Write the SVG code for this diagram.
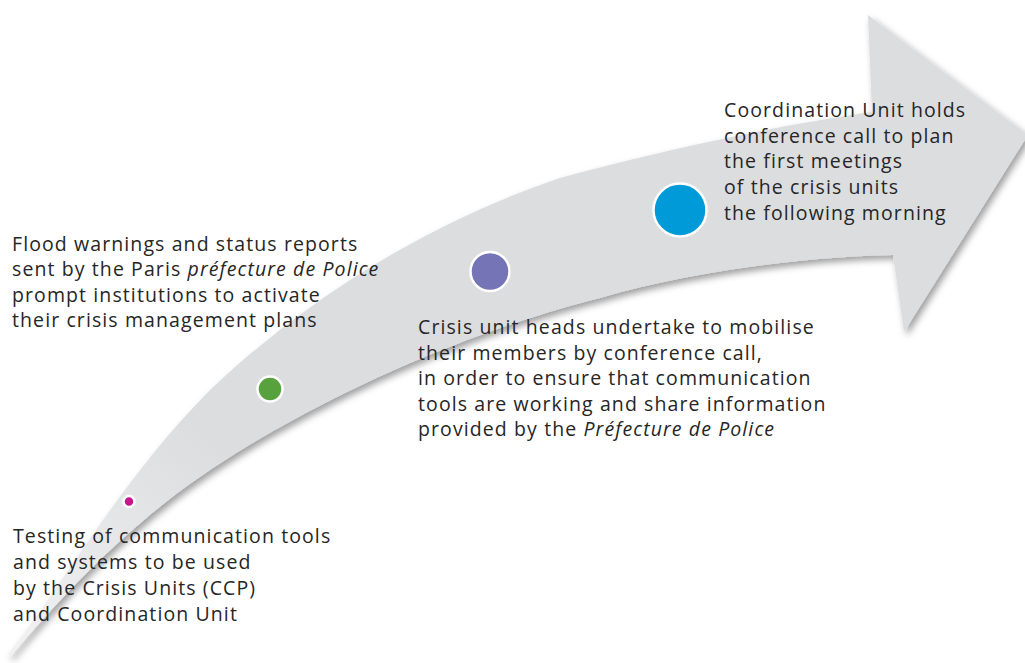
<svg xmlns="http://www.w3.org/2000/svg" width="1025" height="663" viewBox="0 0 1025 663">
<style>
.t{font-family:"Open Sans","Liberation Sans",sans-serif;font-size:19.5px;letter-spacing:1.1px;fill:#262626}
.i{font-style:italic}
.dot{stroke:#ffffff;stroke-width:2.5}
</style>
<defs>
<linearGradient id="bandFill" gradientUnits="userSpaceOnUse" x1="10" y1="655" x2="200" y2="430">
<stop offset="0" stop-color="#f2f2f3"/>
<stop offset="1" stop-color="#dcdddf"/>
</linearGradient>
<filter id="shadow" x="-5%" y="-5%" width="115%" height="115%">
<feDropShadow dx="3" dy="4" stdDeviation="3.5" flood-color="#000" flood-opacity="0.38"/>
</filter>
</defs>
<rect width="1025" height="663" fill="#ffffff"/>
<g id="connectors">
<path d="M 8,654 C 60,590 120,480 210,390 C 300,305 420,225 560,178 C 680,145 800,122 872,112 L 868,15 L 1028,135 L 904,332 L 893,255 C 800,257 690,272 600,298 C 480,328 330,390 210,470 C 120,530 50,610 10,657 Z" fill="url(#bandFill)" filter="url(#shadow)"/>
</g>
<g id="step1">
<circle class="dot" cx="129" cy="501.5" r="5.5" fill="#c6168d"/>
<text class="t" x="13" y="543"><tspan x="13">Testing of communication tools</tspan><tspan x="13" y="569">and systems to be used</tspan><tspan x="13" y="595">by the Crisis Units (CCP)</tspan><tspan x="13" y="620.5">and Coordination Unit</tspan></text>
</g>
<g id="step2">
<circle class="dot" cx="270" cy="389" r="12.5" fill="#58a23e"/>
<text class="t" x="12" y="251"><tspan x="12">Flood warnings and status reports</tspan><tspan x="12" y="276.3">sent by the Paris <tspan class="i">préfecture de Police</tspan></tspan><tspan x="12" y="301.6">prompt institutions to activate</tspan><tspan x="12" y="326.9">their crisis management plans</tspan></text>
</g>
<g id="step3">
<circle class="dot" cx="490" cy="271.5" r="19.5" fill="#7474b6"/>
<text class="t" x="418" y="334.3"><tspan x="418">Crisis unit heads undertake to mobilise</tspan><tspan x="418" y="359.8">their members by conference call,</tspan><tspan x="418" y="385.3">in order to ensure that communication</tspan><tspan x="418" y="410.8">tools are working and share information</tspan><tspan x="418" y="436.3">provided by the <tspan class="i">Préfecture de Police</tspan></tspan></text>
</g>
<g id="step4">
<circle class="dot" cx="680" cy="210" r="26.5" fill="#009ad9"/>
<text class="t" x="724" y="116.7"><tspan x="724">Coordination Unit holds</tspan><tspan x="724" y="142.5">conference call to plan</tspan><tspan x="724" y="168.3">the first meetings</tspan><tspan x="724" y="194.1">of the crisis units</tspan><tspan x="724" y="219.9">the following morning</tspan></text>
</g>
</svg>
